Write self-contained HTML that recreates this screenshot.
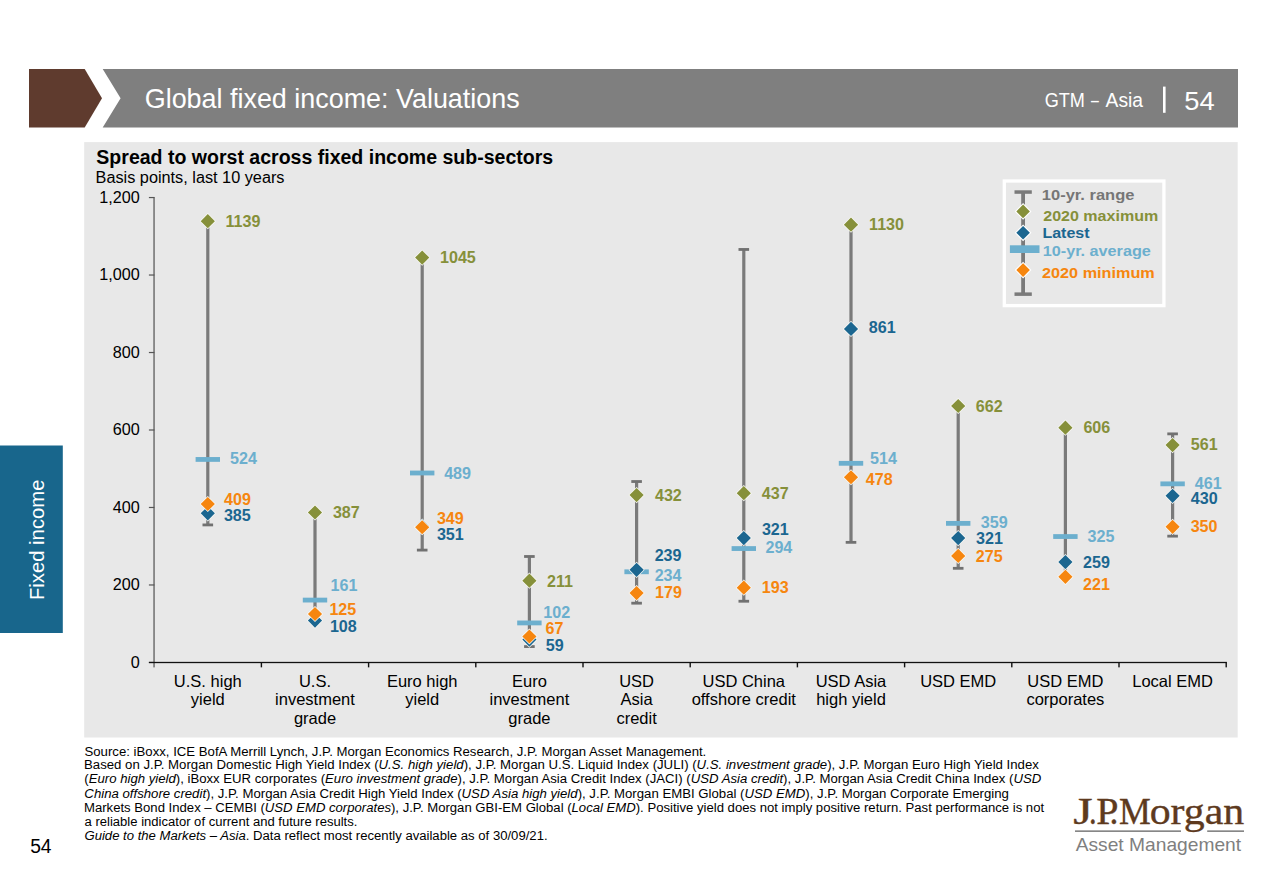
<!DOCTYPE html>
<html><head><meta charset="utf-8"><title>Global fixed income: Valuations</title>
<style>html,body{margin:0;padding:0;background:#fff;}body{width:1270px;height:880px;overflow:hidden;}
svg{display:block;font-family:"Liberation Sans",sans-serif;}</style></head>
<body><svg width="1270" height="880" viewBox="0 0 1270 880">
<path d="M29 69H84.7L102 98.3L84.7 127.6H29Z" fill="#5F3B2E"/>
<path d="M102.7 69H1238V127.6H102.7L120.6 98.3Z" fill="#7F7F7F"/>
<text x="144.75" y="108.00" font-size="28.5" fill="#fff" textLength="374.91" lengthAdjust="spacingAndGlyphs">Global fixed income: Valuations</text>
<text x="1044.69" y="107.20" font-size="20.5" fill="#fff" textLength="40.19" lengthAdjust="spacingAndGlyphs">GTM</text>
<text x="1090.90" y="107.20" font-size="20.5" fill="#fff" textLength="7.81" lengthAdjust="spacingAndGlyphs">–</text>
<text x="1105.56" y="107.20" font-size="20.5" fill="#fff" textLength="37.44" lengthAdjust="spacingAndGlyphs">Asia</text>
<rect x="1163" y="86.6" width="2.6" height="26.2" fill="#fff"/>
<text x="1184.31" y="110.20" font-size="26.5" fill="#fff" textLength="30.39" lengthAdjust="spacingAndGlyphs">54</text>
<rect x="84.2" y="142.1" width="1153.5" height="595.4" fill="#E8E8E8"/>
<text x="96.34" y="163.90" font-size="20" font-weight="bold" fill="#000" textLength="456.86" lengthAdjust="spacingAndGlyphs">Spread to worst across fixed income sub-sectors</text>
<text x="95.57" y="182.60" font-size="15.8" fill="#000" textLength="188.92" lengthAdjust="spacingAndGlyphs">Basis points, last 10 years</text>
<rect x="153.25" y="197.05" width="1.6" height="470.35" fill="#777"/>
<rect x="148.9" y="661.85" width="5.5" height="1.2" fill="#555"/>
<text x="130.82" y="667.65" font-size="16.2" fill="#000">0</text>
<rect x="148.9" y="584.37" width="5.5" height="1.2" fill="#555"/>
<text x="112.80" y="590.17" font-size="16.2" fill="#000">200</text>
<rect x="148.9" y="506.88" width="5.5" height="1.2" fill="#555"/>
<text x="112.80" y="512.68" font-size="16.2" fill="#000">400</text>
<rect x="148.9" y="429.40" width="5.5" height="1.2" fill="#555"/>
<text x="112.80" y="435.20" font-size="16.2" fill="#000">600</text>
<rect x="148.9" y="351.92" width="5.5" height="1.2" fill="#555"/>
<text x="112.80" y="357.72" font-size="16.2" fill="#000">800</text>
<rect x="148.9" y="274.43" width="5.5" height="1.2" fill="#555"/>
<text x="99.29" y="280.23" font-size="16.2" fill="#000">1,000</text>
<rect x="148.9" y="196.95" width="5.5" height="1.2" fill="#555"/>
<text x="99.29" y="202.75" font-size="16.2" fill="#000">1,200</text>
<rect x="148.9" y="661.85" width="1078.00" height="1.3" fill="#111"/>
<rect x="260.70" y="662.45" width="1.4" height="4.9" fill="#111"/>
<rect x="367.90" y="662.45" width="1.4" height="4.9" fill="#111"/>
<rect x="475.10" y="662.45" width="1.4" height="4.9" fill="#111"/>
<rect x="582.30" y="662.45" width="1.4" height="4.9" fill="#111"/>
<rect x="689.50" y="662.45" width="1.4" height="4.9" fill="#111"/>
<rect x="796.70" y="662.45" width="1.4" height="4.9" fill="#111"/>
<rect x="903.90" y="662.45" width="1.4" height="4.9" fill="#111"/>
<rect x="1011.10" y="662.45" width="1.4" height="4.9" fill="#111"/>
<rect x="1118.30" y="662.45" width="1.4" height="4.9" fill="#111"/>
<rect x="1225.50" y="662.45" width="1.4" height="4.9" fill="#111"/>
<text x="207.80" y="686.80" font-size="16.5" fill="#000" text-anchor="middle">U.S. high</text>
<text x="207.80" y="705.40" font-size="16.5" fill="#000" text-anchor="middle">yield</text>
<text x="315.00" y="686.80" font-size="16.5" fill="#000" text-anchor="middle">U.S.</text>
<text x="315.00" y="705.40" font-size="16.5" fill="#000" text-anchor="middle">investment</text>
<text x="315.00" y="723.60" font-size="16.5" fill="#000" text-anchor="middle">grade</text>
<text x="422.20" y="686.80" font-size="16.5" fill="#000" text-anchor="middle">Euro high</text>
<text x="422.20" y="705.40" font-size="16.5" fill="#000" text-anchor="middle">yield</text>
<text x="529.40" y="686.80" font-size="16.5" fill="#000" text-anchor="middle">Euro</text>
<text x="529.40" y="705.40" font-size="16.5" fill="#000" text-anchor="middle">investment</text>
<text x="529.40" y="723.60" font-size="16.5" fill="#000" text-anchor="middle">grade</text>
<text x="636.60" y="686.80" font-size="16.5" fill="#000" text-anchor="middle">USD</text>
<text x="636.60" y="705.40" font-size="16.5" fill="#000" text-anchor="middle">Asia</text>
<text x="636.60" y="723.60" font-size="16.5" fill="#000" text-anchor="middle">credit</text>
<text x="743.80" y="686.80" font-size="16.5" fill="#000" text-anchor="middle">USD China</text>
<text x="743.80" y="705.40" font-size="16.5" fill="#000" text-anchor="middle">offshore credit</text>
<text x="851.00" y="686.80" font-size="16.5" fill="#000" text-anchor="middle">USD Asia</text>
<text x="851.00" y="705.40" font-size="16.5" fill="#000" text-anchor="middle">high yield</text>
<text x="958.20" y="686.80" font-size="16.5" fill="#000" text-anchor="middle">USD EMD</text>
<text x="1065.40" y="686.80" font-size="16.5" fill="#000" text-anchor="middle">USD EMD</text>
<text x="1065.40" y="705.40" font-size="16.5" fill="#000" text-anchor="middle">corporates</text>
<text x="1172.60" y="686.80" font-size="16.5" fill="#000" text-anchor="middle">Local EMD</text>
<rect x="206.20" y="221.18" width="3.2" height="303.73" fill="#7A7A7A"/>
<rect x="202.50" y="219.78" width="10.6" height="2.8" fill="#717171"/>
<rect x="202.50" y="523.52" width="10.6" height="2.8" fill="#717171"/>
<rect x="195.60" y="457.04" width="24.4" height="4.8" fill="#6CAFCE"/>
<path d="M207.80 506.19L214.90 513.29L207.80 520.39L200.70 513.29Z" fill="#1B6690" stroke="#FAFAF6" stroke-width="1.4" paint-order="stroke"/>
<path d="M207.80 496.90L214.90 504.00L207.80 511.10L200.70 504.00Z" fill="#F6860F" stroke="#FAFAF6" stroke-width="1.4" paint-order="stroke"/>
<path d="M207.80 214.08L214.90 221.18L207.80 228.28L200.70 221.18Z" fill="#86903A" stroke="#FAFAF6" stroke-width="1.4" paint-order="stroke"/>
<rect x="313.40" y="512.52" width="3.2" height="108.09" fill="#7A7A7A"/>
<rect x="309.70" y="511.12" width="10.6" height="2.8" fill="#717171"/>
<rect x="309.70" y="619.21" width="10.6" height="2.8" fill="#717171"/>
<rect x="302.80" y="597.68" width="24.4" height="4.8" fill="#6CAFCE"/>
<path d="M315.00 613.51L322.10 620.61L315.00 627.71L307.90 620.61Z" fill="#1B6690" stroke="#FAFAF6" stroke-width="1.4" paint-order="stroke"/>
<path d="M315.00 606.92L322.10 614.02L315.00 621.12L307.90 614.02Z" fill="#F6860F" stroke="#FAFAF6" stroke-width="1.4" paint-order="stroke"/>
<path d="M315.00 505.42L322.10 512.52L315.00 519.62L307.90 512.52Z" fill="#86903A" stroke="#FAFAF6" stroke-width="1.4" paint-order="stroke"/>
<rect x="420.60" y="257.60" width="3.2" height="292.50" fill="#7A7A7A"/>
<rect x="416.90" y="256.20" width="10.6" height="2.8" fill="#717171"/>
<rect x="416.90" y="548.70" width="10.6" height="2.8" fill="#717171"/>
<rect x="410.00" y="470.60" width="24.4" height="4.8" fill="#6CAFCE"/>
<path d="M422.20 519.37L429.30 526.47L422.20 533.57L415.10 526.47Z" fill="#1B6690" stroke="#FAFAF6" stroke-width="1.4" paint-order="stroke"/>
<path d="M422.20 520.14L429.30 527.24L422.20 534.34L415.10 527.24Z" fill="#F6860F" stroke="#FAFAF6" stroke-width="1.4" paint-order="stroke"/>
<path d="M422.20 250.50L429.30 257.60L422.20 264.70L415.10 257.60Z" fill="#86903A" stroke="#FAFAF6" stroke-width="1.4" paint-order="stroke"/>
<rect x="527.80" y="556.49" width="3.2" height="90.07" fill="#7A7A7A"/>
<rect x="524.10" y="555.09" width="10.6" height="2.8" fill="#717171"/>
<rect x="524.10" y="645.17" width="10.6" height="2.8" fill="#717171"/>
<rect x="517.20" y="620.53" width="24.4" height="4.8" fill="#6CAFCE"/>
<path d="M529.40 632.49L536.50 639.59L529.40 646.69L522.30 639.59Z" fill="#1B6690" stroke="#FAFAF6" stroke-width="1.4" paint-order="stroke"/>
<path d="M529.40 629.39L536.50 636.49L529.40 643.59L522.30 636.49Z" fill="#F6860F" stroke="#FAFAF6" stroke-width="1.4" paint-order="stroke"/>
<path d="M529.40 573.61L536.50 580.71L529.40 587.81L522.30 580.71Z" fill="#86903A" stroke="#FAFAF6" stroke-width="1.4" paint-order="stroke"/>
<rect x="635.00" y="481.53" width="3.2" height="121.65" fill="#7A7A7A"/>
<rect x="631.30" y="480.13" width="10.6" height="2.8" fill="#717171"/>
<rect x="631.30" y="601.78" width="10.6" height="2.8" fill="#717171"/>
<rect x="624.40" y="569.39" width="24.4" height="4.8" fill="#6CAFCE"/>
<path d="M636.60 562.76L643.70 569.86L636.60 576.96L629.50 569.86Z" fill="#1B6690" stroke="#FAFAF6" stroke-width="1.4" paint-order="stroke"/>
<path d="M636.60 586.00L643.70 593.10L636.60 600.20L629.50 593.10Z" fill="#F6860F" stroke="#FAFAF6" stroke-width="1.4" paint-order="stroke"/>
<path d="M636.60 487.99L643.70 495.09L636.60 502.19L629.50 495.09Z" fill="#86903A" stroke="#FAFAF6" stroke-width="1.4" paint-order="stroke"/>
<rect x="742.20" y="249.46" width="3.2" height="351.77" fill="#7A7A7A"/>
<rect x="738.50" y="248.06" width="10.6" height="2.8" fill="#717171"/>
<rect x="738.50" y="599.84" width="10.6" height="2.8" fill="#717171"/>
<rect x="731.60" y="546.15" width="24.4" height="4.8" fill="#6CAFCE"/>
<path d="M743.80 530.99L750.90 538.09L743.80 545.19L736.70 538.09Z" fill="#1B6690" stroke="#FAFAF6" stroke-width="1.4" paint-order="stroke"/>
<path d="M743.80 580.58L750.90 587.68L743.80 594.78L736.70 587.68Z" fill="#F6860F" stroke="#FAFAF6" stroke-width="1.4" paint-order="stroke"/>
<path d="M743.80 486.05L750.90 493.15L743.80 500.25L736.70 493.15Z" fill="#86903A" stroke="#FAFAF6" stroke-width="1.4" paint-order="stroke"/>
<rect x="849.40" y="224.67" width="3.2" height="317.68" fill="#7A7A7A"/>
<rect x="845.70" y="223.27" width="10.6" height="2.8" fill="#717171"/>
<rect x="845.70" y="540.95" width="10.6" height="2.8" fill="#717171"/>
<rect x="838.80" y="460.92" width="24.4" height="4.8" fill="#6CAFCE"/>
<path d="M851.00 321.78L858.10 328.88L851.00 335.98L843.90 328.88Z" fill="#1B6690" stroke="#FAFAF6" stroke-width="1.4" paint-order="stroke"/>
<path d="M851.00 470.16L858.10 477.26L851.00 484.36L843.90 477.26Z" fill="#F6860F" stroke="#FAFAF6" stroke-width="1.4" paint-order="stroke"/>
<path d="M851.00 217.57L858.10 224.67L851.00 231.77L843.90 224.67Z" fill="#86903A" stroke="#FAFAF6" stroke-width="1.4" paint-order="stroke"/>
<rect x="956.60" y="405.98" width="3.2" height="162.33" fill="#7A7A7A"/>
<rect x="952.90" y="404.58" width="10.6" height="2.8" fill="#717171"/>
<rect x="952.90" y="566.91" width="10.6" height="2.8" fill="#717171"/>
<rect x="946.00" y="520.97" width="24.4" height="4.8" fill="#6CAFCE"/>
<path d="M958.20 530.99L965.30 538.09L958.20 545.19L951.10 538.09Z" fill="#1B6690" stroke="#FAFAF6" stroke-width="1.4" paint-order="stroke"/>
<path d="M958.20 548.81L965.30 555.91L958.20 563.01L951.10 555.91Z" fill="#F6860F" stroke="#FAFAF6" stroke-width="1.4" paint-order="stroke"/>
<path d="M958.20 398.88L965.30 405.98L958.20 413.08L951.10 405.98Z" fill="#86903A" stroke="#FAFAF6" stroke-width="1.4" paint-order="stroke"/>
<rect x="1063.80" y="427.68" width="3.2" height="149.16" fill="#7A7A7A"/>
<rect x="1060.10" y="426.28" width="10.6" height="2.8" fill="#717171"/>
<rect x="1060.10" y="575.43" width="10.6" height="2.8" fill="#717171"/>
<rect x="1053.20" y="534.14" width="24.4" height="4.8" fill="#6CAFCE"/>
<path d="M1065.40 555.01L1072.50 562.11L1065.40 569.21L1058.30 562.11Z" fill="#1B6690" stroke="#FAFAF6" stroke-width="1.4" paint-order="stroke"/>
<path d="M1065.40 569.73L1072.50 576.83L1065.40 583.93L1058.30 576.83Z" fill="#F6860F" stroke="#FAFAF6" stroke-width="1.4" paint-order="stroke"/>
<path d="M1065.40 420.58L1072.50 427.68L1065.40 434.78L1058.30 427.68Z" fill="#86903A" stroke="#FAFAF6" stroke-width="1.4" paint-order="stroke"/>
<rect x="1171.00" y="433.87" width="3.2" height="102.28" fill="#7A7A7A"/>
<rect x="1167.30" y="432.47" width="10.6" height="2.8" fill="#717171"/>
<rect x="1167.30" y="534.75" width="10.6" height="2.8" fill="#717171"/>
<rect x="1160.40" y="481.45" width="24.4" height="4.8" fill="#6CAFCE"/>
<path d="M1172.60 488.76L1179.70 495.86L1172.60 502.96L1165.50 495.86Z" fill="#1B6690" stroke="#FAFAF6" stroke-width="1.4" paint-order="stroke"/>
<path d="M1172.60 519.75L1179.70 526.85L1172.60 533.95L1165.50 526.85Z" fill="#F6860F" stroke="#FAFAF6" stroke-width="1.4" paint-order="stroke"/>
<path d="M1172.60 438.01L1179.70 445.11L1172.60 452.21L1165.50 445.11Z" fill="#86903A" stroke="#FAFAF6" stroke-width="1.4" paint-order="stroke"/>
<text x="225.49" y="226.90" font-size="16.1" font-weight="bold" fill="#86903A">1139</text>
<text x="230.10" y="464.40" font-size="16.1" font-weight="bold" fill="#6CAFCE">524</text>
<text x="224.06" y="504.80" font-size="16.1" font-weight="bold" fill="#F6860F">409</text>
<text x="223.93" y="520.50" font-size="16.1" font-weight="bold" fill="#1B6690">385</text>
<text x="332.93" y="517.60" font-size="16.1" font-weight="bold" fill="#86903A">387</text>
<text x="330.49" y="591.30" font-size="16.1" font-weight="bold" fill="#6CAFCE">161</text>
<text x="329.39" y="614.50" font-size="16.1" font-weight="bold" fill="#F6860F">125</text>
<text x="329.89" y="631.80" font-size="16.1" font-weight="bold" fill="#1B6690">108</text>
<text x="439.99" y="263.00" font-size="16.1" font-weight="bold" fill="#86903A">1045</text>
<text x="444.16" y="478.50" font-size="16.1" font-weight="bold" fill="#6CAFCE">489</text>
<text x="436.93" y="523.50" font-size="16.1" font-weight="bold" fill="#F6860F">349</text>
<text x="436.93" y="540.30" font-size="16.1" font-weight="bold" fill="#1B6690">351</text>
<text x="547.04" y="586.80" font-size="16.1" font-weight="bold" fill="#86903A">211</text>
<text x="543.29" y="617.50" font-size="16.1" font-weight="bold" fill="#6CAFCE">102</text>
<text x="545.61" y="634.40" font-size="16.1" font-weight="bold" fill="#F6860F">67</text>
<text x="545.70" y="651.20" font-size="16.1" font-weight="bold" fill="#1B6690">59</text>
<text x="654.96" y="500.50" font-size="16.1" font-weight="bold" fill="#86903A">432</text>
<text x="654.64" y="561.40" font-size="16.1" font-weight="bold" fill="#1B6690">239</text>
<text x="654.64" y="581.20" font-size="16.1" font-weight="bold" fill="#6CAFCE">234</text>
<text x="654.99" y="598.20" font-size="16.1" font-weight="bold" fill="#F6860F">179</text>
<text x="761.76" y="498.60" font-size="16.1" font-weight="bold" fill="#86903A">437</text>
<text x="761.93" y="535.20" font-size="16.1" font-weight="bold" fill="#1B6690">321</text>
<text x="765.44" y="553.10" font-size="16.1" font-weight="bold" fill="#6CAFCE">294</text>
<text x="761.79" y="593.20" font-size="16.1" font-weight="bold" fill="#F6860F">193</text>
<text x="869.09" y="229.60" font-size="16.1" font-weight="bold" fill="#86903A">1130</text>
<text x="868.79" y="333.00" font-size="16.1" font-weight="bold" fill="#1B6690">861</text>
<text x="870.00" y="463.90" font-size="16.1" font-weight="bold" fill="#6CAFCE">514</text>
<text x="865.86" y="485.30" font-size="16.1" font-weight="bold" fill="#F6860F">478</text>
<text x="975.81" y="411.60" font-size="16.1" font-weight="bold" fill="#86903A">662</text>
<text x="980.83" y="528.20" font-size="16.1" font-weight="bold" fill="#6CAFCE">359</text>
<text x="976.03" y="543.80" font-size="16.1" font-weight="bold" fill="#1B6690">321</text>
<text x="975.84" y="561.70" font-size="16.1" font-weight="bold" fill="#F6860F">275</text>
<text x="1083.41" y="432.70" font-size="16.1" font-weight="bold" fill="#86903A">606</text>
<text x="1087.53" y="541.70" font-size="16.1" font-weight="bold" fill="#6CAFCE">325</text>
<text x="1083.04" y="567.70" font-size="16.1" font-weight="bold" fill="#1B6690">259</text>
<text x="1083.04" y="589.70" font-size="16.1" font-weight="bold" fill="#F6860F">221</text>
<text x="1190.80" y="450.30" font-size="16.1" font-weight="bold" fill="#86903A">561</text>
<text x="1194.76" y="489.40" font-size="16.1" font-weight="bold" fill="#6CAFCE">461</text>
<text x="1190.76" y="504.20" font-size="16.1" font-weight="bold" fill="#1B6690">430</text>
<text x="1190.63" y="532.30" font-size="16.1" font-weight="bold" fill="#F6860F">350</text>
<rect x="1004.3" y="181" width="159.6" height="124.6" fill="#E8E8E8" stroke="#fff" stroke-width="3.3"/>
<rect x="1021.20" y="192" width="3.8" height="102" fill="#7A7A7A"/>
<rect x="1014.5" y="190.3" width="17.3" height="3.5" fill="#7A7A7A"/>
<rect x="1014.5" y="292.4" width="17.3" height="3.5" fill="#7A7A7A"/>
<path d="M1023.10 204.60L1029.90 211.40L1023.10 218.20L1016.30 211.40Z" fill="#86903A" stroke="#fff" stroke-width="2.2" paint-order="stroke"/>
<path d="M1023.10 226.00L1029.90 232.80L1023.10 239.60L1016.30 232.80Z" fill="#1B6690" stroke="#fff" stroke-width="2.2" paint-order="stroke"/>
<rect x="1009.9" y="245.3" width="29.6" height="7.7" fill="#6CAFCE"/>
<path d="M1023.10 263.30L1029.90 270.10L1023.10 276.90L1016.30 270.10Z" fill="#F6860F" stroke="#fff" stroke-width="2.2" paint-order="stroke"/>
<text x="1041.87" y="199.50" font-size="15.5" font-weight="bold" fill="#767676" textLength="92.59" lengthAdjust="spacingAndGlyphs">10-yr. range</text>
<text x="1043.24" y="221.30" font-size="15.5" font-weight="bold" fill="#86903A" textLength="114.95" lengthAdjust="spacingAndGlyphs">2020 maximum</text>
<text x="1042.43" y="238.20" font-size="15.5" font-weight="bold" fill="#1B6690" textLength="47.17" lengthAdjust="spacingAndGlyphs">Latest</text>
<text x="1042.79" y="256.00" font-size="15.5" font-weight="bold" fill="#6CAFCE" textLength="108.06" lengthAdjust="spacingAndGlyphs">10-yr. average</text>
<text x="1042.04" y="278.10" font-size="15.5" font-weight="bold" fill="#F6860F" textLength="112.77" lengthAdjust="spacingAndGlyphs">2020 minimum</text>
<rect x="0" y="445.5" width="62.8" height="187.5" fill="#18668C"/>
<text transform="translate(44.2 539.8) rotate(-90)" font-size="20.5" fill="#fff" text-anchor="middle" textLength="120.5" lengthAdjust="spacingAndGlyphs">Fixed income</text>
<text x="84.51" y="755.50" font-size="12.5" fill="#000" textLength="621.79" lengthAdjust="spacingAndGlyphs">Source: iBoxx, ICE BofA Merrill Lynch, J.P. Morgan Economics Research, J.P. Morgan Asset Management.</text>
<text x="84.03" y="769.40" font-size="12.5" fill="#000" textLength="954.82" lengthAdjust="spacingAndGlyphs">Based on J.P. Morgan Domestic High Yield Index (<tspan font-style="italic">U.S. high yield</tspan>), J.P. Morgan U.S. Liquid Index (JULI) (<tspan font-style="italic">U.S. investment grade</tspan>), J.P. Morgan Euro High Yield Index</text>
<text x="84.29" y="783.10" font-size="12.5" fill="#000" textLength="956.93" lengthAdjust="spacingAndGlyphs">(<tspan font-style="italic">Euro high yield</tspan>), iBoxx EUR corporates (<tspan font-style="italic">Euro investment grade</tspan>), J.P. Morgan Asia Credit Index (JACI) (<tspan font-style="italic">USD Asia credit</tspan>), J.P. Morgan Asia Credit China Index (<tspan font-style="italic">USD</tspan></text>
<text x="84.38" y="797.50" font-size="12.5" fill="#000" textLength="924.47" lengthAdjust="spacingAndGlyphs"><tspan font-style="italic">China offshore credit</tspan>), J.P. Morgan Asia Credit High Yield Index (<tspan font-style="italic">USD Asia high yield</tspan>), J.P. Morgan EMBI Global (<tspan font-style="italic">USD EMD</tspan>), J.P. Morgan Corporate Emerging</text>
<text x="84.03" y="812.00" font-size="12.5" fill="#000" textLength="960.07" lengthAdjust="spacingAndGlyphs">Markets Bond Index – CEMBI (<tspan font-style="italic">USD EMD corporates</tspan>), J.P. Morgan GBI-EM Global (<tspan font-style="italic">Local EMD</tspan>). Positive yield does not imply positive return. Past performance is not</text>
<text x="84.55" y="826.25" font-size="12.5" fill="#000" textLength="272.85" lengthAdjust="spacingAndGlyphs">a reliable indicator of current and future results.</text>
<text x="84.45" y="840.20" font-size="12.5" fill="#000" textLength="463.14" lengthAdjust="spacingAndGlyphs"><tspan font-style="italic">Guide to the Markets – Asia</tspan>. Data reflect most recently available as of 30/09/21.</text>
<text x="30.13" y="852.80" font-size="20" fill="#000" textLength="21.44" lengthAdjust="spacingAndGlyphs">54</text>
<text x="1073.25" y="824.1" font-family="Liberation Serif" font-size="37" fill="#5E3A1E" stroke="#5E3A1E" stroke-width="0.35" textLength="19.39" lengthAdjust="spacingAndGlyphs">J</text>
<text x="1088.89" y="824.1" font-family="Liberation Serif" font-size="37" fill="#5E3A1E" stroke="#5E3A1E" stroke-width="0.35" textLength="7.62" lengthAdjust="spacingAndGlyphs">.</text>
<text x="1096.15" y="824.1" font-family="Liberation Serif" font-size="37" fill="#5E3A1E" stroke="#5E3A1E" stroke-width="0.35" textLength="22.26" lengthAdjust="spacingAndGlyphs">P</text>
<text x="1109.46" y="824.1" font-family="Liberation Serif" font-size="37" fill="#5E3A1E" stroke="#5E3A1E" stroke-width="0.35" textLength="8.89" lengthAdjust="spacingAndGlyphs">.</text>
<text x="1118.97" y="824.1" font-family="Liberation Serif" font-size="37" fill="#5E3A1E" stroke="#5E3A1E" stroke-width="0.35" textLength="31.78" lengthAdjust="spacingAndGlyphs">M</text>
<text x="1149.72" y="824.1" font-family="Liberation Serif" font-size="37" fill="#5E3A1E" stroke="#5E3A1E" stroke-width="0.35" textLength="94.41" lengthAdjust="spacingAndGlyphs">organ</text>
<rect x="1075" y="830.4" width="106" height="1.5" fill="#7a7a7a"/><rect x="1207.2" y="830.4" width="36.8" height="1.5" fill="#7a7a7a"/>
<text x="1075.66" y="851.10" font-size="18.5" fill="#7F7F7F" textLength="165.48" lengthAdjust="spacingAndGlyphs">Asset Management</text>
</svg></body></html>
